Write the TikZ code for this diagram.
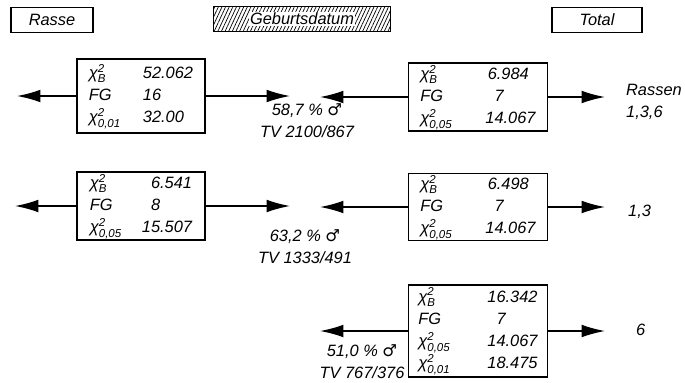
\documentclass[tikz,border=0pt]{standalone}
\usepackage{amsmath}
\usepackage{fontspec}
\setmainfont{Liberation Sans}
\newfontfamily\symf{DejaVu Sans}
\usetikzlibrary{arrows.meta,patterns.meta}
\newcommand{\chisq}[1]{$\text{χ}^{\text{2}}_{\text{#1}}$}
\newcommand{\mle}{{\symf ♂}}

\begin{document}
\begin{tikzpicture}[x=0.03cm,y=-0.03cm,>={Latex[length=7mm,width=3.8mm]},
  font=\fontsize{14}{19}\selectfont\itshape,
  tb/.style={draw,line width=1.2pt,inner sep=0pt},
  hd/.style={draw,line width=1.2pt,minimum height=0.75cm,inner sep=0pt},
  arr/.style={->,line width=1.2pt}]
  \useasboundingbox (0,0) rectangle (685,382);
  % header
  \node[hd,minimum width=2.46cm] (rasse) at (52,20) {Rasse};
  \node[hd,minimum width=5.31cm,pattern={Lines[angle=65,distance=2.8pt,line width=0.6pt]}] (geb) at (302,19) {};
  \node[fill=white,inner sep=1pt] (gebt) at (geb) {Geburtsdatum};
  \node[hd,minimum width=2.7cm] (total) at (597,20) {Total};
  % row 1
  \node[tb,minimum width=3.84cm,minimum height=2.22cm] (r1) at (141,96) {\begin{tabular}{@{}p{1.62cm}@{}l@{}}\chisq{B} & 52.062\\ FG & 16\\ \chisq{0,01} & 32.00\end{tabular}};
  \node[tb,minimum width=4.17cm,minimum height=2.04cm] (t1) at (478,97) {\begin{tabular}{@{}p{1.95cm}@{}l@{}}\chisq{B} & \hspace{2pt}6.984\\ FG & \phantom{1}7\\ \chisq{0,05} & 14.067\end{tabular}};
  \coordinate (a1) at (17,96);
  \coordinate (b1) at (290,96);
  \coordinate (c1) at (320,97);
  \coordinate (d1) at (605,97);
  \draw[arr] (r1.west) -- (a1);
  \draw[arr] (r1.east) -- (b1);
  \draw[arr] (t1.west) -- (c1);
  \draw[arr] (t1.east) -- (d1);
  \node[align=center] (p1) at (307,121) {58,7 \% \mle\\TV 2100/867};
  \node[anchor=west,align=left] (s1) at (622,102) {Rassen\\1,3,6};
  % row 2
  \node[tb,minimum width=3.84cm,minimum height=2.04cm] (r2) at (141,206) {\begin{tabular}{@{}p{1.56cm}@{}l@{}}\chisq{B} & \phantom{1}6.541\\ FG & \phantom{1}8\\ \chisq{0,05} & 15.507\end{tabular}};
  \node[tb,minimum width=4.17cm,minimum height=1.95cm] (t2) at (478,207) {\begin{tabular}{@{}p{1.95cm}@{}l@{}}\chisq{B} & \hspace{2pt}6.498\\ FG & \phantom{1}7\\ \chisq{0,05} & 14.067\end{tabular}};
  \coordinate (a2) at (15,206);
  \coordinate (b2) at (290,206);
  \coordinate (c2) at (320,207);
  \coordinate (d2) at (605,207);
  \draw[arr] (r2.west) -- (a2);
  \draw[arr] (r2.east) -- (b2);
  \draw[arr] (t2.west) -- (c2);
  \draw[arr] (t2.east) -- (d2);
  \node[align=center] (p2) at (305,247) {63,2 \% \mle\\TV 1333/491};
  \node[anchor=west] (s2) at (624,212) {1,3};
  % row 3
  \node[tb,minimum width=4.17cm,minimum height=2.76cm] (t3) at (478,331) {\begin{tabular}{@{}p{2.07cm}@{}l@{}}\chisq{B} & 16.342\\ FG & \phantom{1}7\\ \chisq{0,05} & 14.067\\ \chisq{0,01} & 18.475\end{tabular}};
  \coordinate (c3) at (320,331);
  \coordinate (d3) at (605,331);
  \draw[arr] (t3.west) -- (c3);
  \draw[arr] (t3.east) -- (d3);
  \node[align=center] (p3) at (362,362) {51,0 \% \mle\\TV 767/376};
  \node[anchor=west] (s3) at (632,330) {6};
\end{tikzpicture}
\end{document}
